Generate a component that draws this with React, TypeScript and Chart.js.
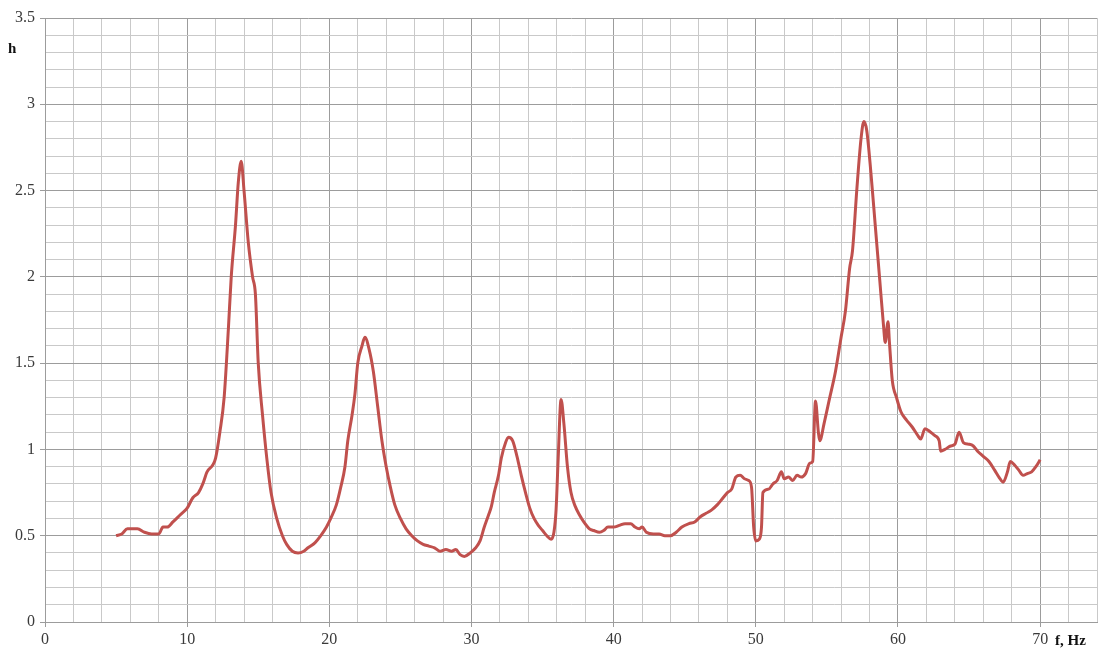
import React, { useEffect, useRef } from "react";
import { Chart, registerables } from "chart.js";

Chart.register(...registerables);

const freq: number[] = [
  5, 5.4, 5.8, 6.5, 7, 7.5, 8, 8.3, 8.6, 9, 9.5, 10, 10.4, 10.8, 11.1, 11.4, 11.8, 12, 12.3, 12.6,
  12.9, 13.1, 13.4, 13.6, 13.8, 14.0, 14.3, 14.6, 14.8, 15.0, 15.3, 15.6, 15.9, 16.3, 16.7, 17.0,
  17.4, 17.8, 18.2, 18.5, 19, 19.4, 19.8, 20.1, 20.5, 20.8, 21.1, 21.3, 21.6, 21.8, 22.0, 22.3,
  22.5, 22.8, 23.1, 23.4, 23.7, 24.0, 24.3, 24.6, 25.0, 25.4, 25.8, 26.2, 26.6, 27, 27.4, 27.8,
  28.2, 28.6, 28.9, 29.2, 29.5, 29.9, 30.3, 30.6, 30.9, 31.2, 31.4, 31.6, 31.9, 32.1, 32.4, 32.6,
  32.9, 33.2, 33.5, 33.8, 34.1, 34.4, 34.7, 35.0, 35.3, 35.6, 35.8, 35.95, 36.1, 36.3, 36.5,
  36.75, 37.0, 37.3, 37.6, 37.9, 38.3, 38.6, 39.0, 39.3, 39.6, 40.0, 40.4, 40.8, 41.2, 41.5,
  41.8, 42.0, 42.3, 42.8, 43.2, 43.6, 44.0, 44.4, 44.8, 45.3, 45.7, 46.1, 46.5, 46.9, 47.3,
  47.7, 48.0, 48.3, 48.6, 48.9, 49.2, 49.5, 49.7, 49.85, 50.0, 50.25, 50.4, 50.5, 50.9, 51.2,
  51.5, 51.8, 52.0, 52.3, 52.6, 52.9, 53.2, 53.5, 53.8, 54.0, 54.2, 54.4, 54.5, 54.8, 55.2,
  55.6, 56.0, 56.3, 56.6, 56.8, 57.1, 57.4, 57.6, 57.8, 58.1, 58.4, 58.7, 59.0, 59.1, 59.3,
  59.4, 59.6, 59.9, 60.2, 60.6, 61.0, 61.4, 61.6, 61.9, 62.3, 62.6, 62.9, 63.0, 63.3, 63.7,
  64.0, 64.3, 64.6, 65.0, 65.3, 65.6, 66.0, 66.4, 66.8, 67.1, 67.4, 67.7, 67.9, 68.2, 68.5,
  68.8, 69.1, 69.4, 69.7, 70.0,
];

const h: number[] = [
  0.5, 0.51, 0.54, 0.54, 0.52, 0.51, 0.51, 0.55, 0.55, 0.58, 0.62, 0.66, 0.72, 0.75, 0.8, 0.87,
  0.91, 0.95, 1.1, 1.3, 1.7, 2.0, 2.3, 2.55, 2.67, 2.5, 2.2, 2.0, 1.9, 1.5, 1.2, 0.95, 0.75, 0.6,
  0.5, 0.45, 0.41, 0.4, 0.41, 0.43, 0.46, 0.5, 0.55, 0.6, 0.68, 0.78, 0.9, 1.05, 1.2, 1.32, 1.5,
  1.6, 1.65, 1.58, 1.45, 1.25, 1.05, 0.9, 0.78, 0.68, 0.6, 0.54, 0.5, 0.47, 0.45, 0.44, 0.43,
  0.41, 0.42, 0.41, 0.42, 0.39, 0.38, 0.4, 0.43, 0.47, 0.55, 0.62, 0.67, 0.75, 0.85, 0.95, 1.04,
  1.07, 1.05, 0.96, 0.85, 0.75, 0.66, 0.6, 0.56, 0.53, 0.5, 0.48, 0.52, 0.65, 0.95, 1.29, 1.15,
  0.9, 0.75, 0.67, 0.62, 0.58, 0.54, 0.53, 0.52, 0.53, 0.55, 0.55, 0.56, 0.57, 0.57, 0.55, 0.54,
  0.55, 0.52, 0.51, 0.51, 0.5, 0.5, 0.52, 0.55, 0.57, 0.58, 0.61, 0.63, 0.65, 0.68, 0.72, 0.75,
  0.77, 0.84, 0.85, 0.83, 0.82, 0.78, 0.55, 0.47, 0.48, 0.55, 0.75, 0.77, 0.8, 0.82, 0.87, 0.83,
  0.84, 0.82, 0.85, 0.84, 0.86, 0.92, 0.93, 1.28, 1.1, 1.05, 1.15, 1.3, 1.45, 1.65, 1.8, 2.05,
  2.15, 2.5, 2.8, 2.9, 2.85, 2.6, 2.3, 2.0, 1.7, 1.62, 1.74, 1.62, 1.4, 1.3, 1.22, 1.17, 1.13,
  1.08, 1.06, 1.12, 1.1, 1.08, 1.05, 0.99, 1.0, 1.02, 1.03, 1.1, 1.04, 1.03, 1.02, 0.99, 0.96,
  0.93, 0.88, 0.84, 0.81, 0.87, 0.93, 0.91, 0.88, 0.85, 0.86, 0.87, 0.9, 0.94,
];

const xLabelEvery = 10;
const yLabelEvery = 0.5;

const MAJOR = "#9c9c9c";
const MINOR = "#c9c9c9";
const TEXT = "#3a3a3a";
const FONT = "'Liberation Serif', 'Times New Roman', serif";

const axisTitles = {
  id: "axisTitles",
  afterDraw(chart: any) {
    const ctx = chart.ctx;
    ctx.save();
    ctx.fillStyle = "#111";
    ctx.font = `bold 15px ${FONT}`;
    ctx.textBaseline = "middle";
    ctx.textAlign = "left";
    ctx.fillText("h", 8, 49);
    ctx.fillText("f, Hz", 1055, 641);
    ctx.restore();
  },
};

export default function App() {
  const ref = useRef<HTMLCanvasElement>(null);
  useEffect(() => {
    if (!ref.current) return;
    const points = freq.map((f, i) => ({ x: f, y: h[i] }));
    const isMajorX = (v: number) => Math.abs(v / xLabelEvery - Math.round(v / xLabelEvery)) < 1e-6;
    const isMajorY = (v: number) => Math.abs(v / yLabelEvery - Math.round(v / yLabelEvery)) < 1e-6;
    const chart = new Chart(ref.current, {
      type: "line",
      data: {
        datasets: [
          {
            data: points,
            borderColor: "#C0504D",
            borderWidth: 3,
            pointRadius: 0,
            cubicInterpolationMode: "monotone",
            fill: false,
          },
        ],
      },
      options: {
        animation: false,
        responsive: false,
        maintainAspectRatio: false,
        layout: { padding: { top: 18, right: 8, left: 0, bottom: 0 } },
        plugins: { legend: { display: false }, tooltip: { enabled: false } },
        scales: {
          x: {
            type: "linear",
            min: 0,
            max: 74,
            ticks: {
              stepSize: 2,
              autoSkip: false,
              maxRotation: 0,
              padding: 3,
              color: TEXT,
              font: { family: FONT, size: 16 },
              callback: (v: any) => (isMajorX(Number(v)) ? String(Math.round(Number(v))) : ""),
            },
            grid: {
              color: (c: any) => (isMajorX(c.tick?.value ?? 0) ? MAJOR : MINOR),
              tickColor: (c: any) => (isMajorX(c.tick?.value ?? 0) ? MAJOR : "rgba(0,0,0,0)"),
              tickLength: 5,
              lineWidth: 1,
            },
            border: { color: MAJOR },
            afterFit: (s: any) => {
              s.height = 28;
            },
          },
          y: {
            min: 0,
            max: 3.5,
            ticks: {
              stepSize: 0.1,
              autoSkip: false,
              padding: 5,
              color: TEXT,
              font: { family: FONT, size: 16 },
              callback: (v: any) => {
                const n = Number(v);
                if (!isMajorY(n)) return "";
                const r = Math.round(n * 10) / 10;
                return String(r);
              },
            },
            grid: {
              color: (c: any) => (isMajorY(c.tick?.value ?? 0) ? MAJOR : MINOR),
              tickColor: (c: any) => (isMajorY(c.tick?.value ?? 0) ? MAJOR : "rgba(0,0,0,0)"),
              tickLength: 5,
              lineWidth: 1,
            },
            border: { color: MAJOR },
            afterFit: (s: any) => {
              s.width = 45;
            },
          },
        },
      },
      plugins: [axisTitles],
    });
    return () => chart.destroy();
  }, []);
  return (
    <div style={{ position: "fixed", left: 0, top: 0, width: 1105, height: 650, background: "#fff" }}>
      <canvas ref={ref} width={1105} height={650} style={{ width: 1105, height: 650 }} />
    </div>
  );
}
